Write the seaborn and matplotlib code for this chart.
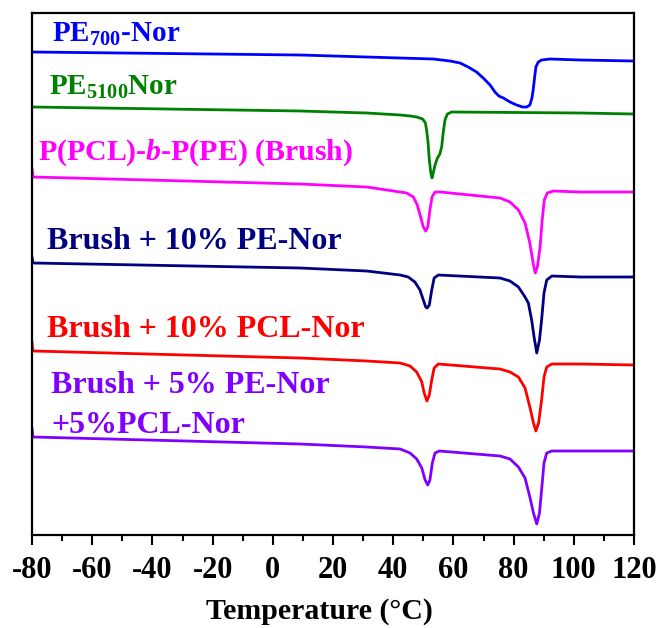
import matplotlib
matplotlib.use("Agg")
import matplotlib.pyplot as plt
from matplotlib.ticker import MultipleLocator
import numpy as np
import pandas as pd
import seaborn as sns

# DSC heating traces (temperature in °C, heat flow in a.u., curves stacked with offsets)
pe700_T = [-80, 9.0, 31.2, 53.3, 58.9, 62.2, 64.9, 67.7, 69.9, 72.2, 73.8, 75.1, 76.6, 78.8,
           81.0, 83.0, 84.4, 85.4, 86.1, 86.5, 87.0, 87.4, 88.2, 89.3, 92.1, 102.1, 120]
pe700_hf = [48.3, 48.0, 47.8, 47.6, 47.4, 47.2, 46.8, 46.3, 45.7, 45.0, 44.3, 43.9, 43.7, 43.3,
            43.0, 42.8, 42.8, 43.0, 43.7, 44.5, 45.8, 46.8, 47.3, 47.5, 47.6, 47.5, 47.4]

pe5100_T = [-80, 9.0, 31.2, 42.3, 45.6, 47.8, 49.8, 50.7, 51.1, 51.6, 52.0, 52.5, 52.9, 53.3,
            53.9, 54.7, 55.5, 56.1, 56.6, 57.2, 58.0, 59.4, 102.1, 120]
pe5100_hf = [42.8, 42.4, 42.2, 42.0, 41.9, 41.8, 41.6, 41.2, 40.5, 39.2, 37.5, 36.2, 35.7, 36.2,
             37.0, 37.7, 38.1, 38.8, 40.2, 41.5, 42.1, 42.3, 42.2, 42.1]

brush_T = [-80, -79.7, 9.0, 31.2, 42.3, 44.5, 46.7, 48.0, 49.1, 50.0, 50.8, 51.5, 52.2, 52.9,
           53.9, 55.6, 75.5, 78.8, 81.6, 83.8, 85.4, 86.6, 87.2, 87.9, 88.8, 89.5, 90.2, 91.2,
           93.2, 102.1, 120]
brush_hf = [36.7, 35.8, 35.1, 34.8, 34.3, 34.2, 33.8, 33.0, 31.8, 30.8, 30.4, 30.8, 32.5, 33.8,
            34.3, 34.3, 33.7, 33.3, 32.5, 31.2, 29.2, 27.0, 26.2, 26.8, 28.8, 31.5, 33.5, 34.2,
            34.4, 34.3, 34.3]

pe10_T = [-80, -79.7, 9.0, 31.2, 42.3, 45.0, 47.2, 48.9, 50.0, 50.8, 51.3, 52.0, 52.8, 53.6,
          55.0, 75.5, 78.8, 81.6, 83.8, 84.9, 86.0, 86.8, 87.7, 88.6, 89.3, 90.1, 91.0, 92.7,
          102.1, 120]
pe10_hf = [27.8, 27.2, 26.7, 26.4, 26.0, 25.8, 25.3, 24.5, 23.5, 22.8, 22.7, 23.0, 24.5, 25.7,
           26.0, 25.7, 25.4, 24.8, 23.8, 23.2, 21.5, 19.8, 18.2, 19.5, 21.5, 24.2, 25.5, 25.9,
           25.8, 25.8]

pcl10_T = [-80, -79.7, 9.0, 31.2, 42.3, 45.6, 47.8, 49.5, 50.3, 51.2, 52.0, 52.8, 53.6, 55.0,
           75.5, 78.8, 81.6, 83.8, 85.4, 86.6, 87.4, 88.3, 89.3, 90.1, 91.0, 92.7, 102.1, 120]
pcl10_hf = [19.3, 18.4, 17.7, 17.4, 17.2, 16.9, 16.3, 15.3, 14.2, 13.4, 14.0, 15.5, 16.7, 17.1,
            16.6, 16.3, 15.8, 14.7, 12.8, 11.2, 10.4, 11.2, 13.5, 15.8, 16.8, 17.1, 17.1, 17.0]

mix_T = [-80, -79.7, 9.0, 31.2, 42.3, 45.6, 47.8, 49.5, 50.6, 51.5, 52.2, 53.0, 53.9, 55.3,
         75.5, 78.8, 81.6, 83.8, 85.4, 86.6, 87.7, 88.6, 89.3, 90.1, 91.0, 92.7, 102.1, 120]
mix_hf = [10.7, 9.8, 9.1, 8.8, 8.6, 8.2, 7.6, 6.7, 5.5, 5.0, 5.5, 7.2, 8.2, 8.4,
          7.9, 7.6, 6.8, 5.7, 3.8, 2.2, 1.1, 2.2, 4.5, 7.2, 8.2, 8.4, 8.4, 8.4]

samples = ["PE700-Nor", "PE5100Nor", "Brush", "Brush + 10% PE-Nor",
           "Brush + 10% PCL-Nor", "Brush + 5% PE-Nor +5%PCL-Nor"]
temps = [pe700_T, pe5100_T, brush_T, pe10_T, pcl10_T, mix_T]
flows = [pe700_hf, pe5100_hf, brush_hf, pe10_hf, pcl10_hf, mix_hf]
colors = ["#0000FF", "#008000", "#FF00FF", "#000080", "#FF0000", "#8000FF"]

# curve labels: (text, T, heat flow at baseline, font size, colour index)
labels = [
    (r"PE$_{\mathbf{700}}$-Nor", -73.4, 49.3, 21, 0),
    (r"PE$_{\mathbf{5100}}$Nor", -74.4, 44.0, 21, 1),
    (r"P(PCL)-$\mathit{b}$-P(PE) (Brush)", -78.0, 37.5, 21.5, 2),
    ("Brush + 10% PE-Nor", -75.0, 28.6, 23, 3),
    ("Brush + 10% PCL-Nor", -75.0, 19.8, 23, 4),
    ("Brush + 5% PE-Nor", -73.7, 14.2, 23, 5),
    ("+5%PCL-Nor", -73.7, 10.2, 23, 5),
]

x_ticks = [-80, -60, -40, -20, 0, 20, 40, 60, 80, 100, 120]

frames = []
for name, t, hf in zip(samples, temps, flows):
    frames.append(pd.DataFrame({"T": t, "HF": hf, "sample": name}))
df = pd.concat(frames, ignore_index=True)

sns.set_theme(style="ticks")
plt.rcParams["font.family"] = ["Liberation Serif", "DejaVu Serif"]
plt.rcParams["font.weight"] = "bold"
plt.rcParams["text.color"] = "black"
plt.rcParams["axes.labelcolor"] = "black"
plt.rcParams["xtick.color"] = "black"
plt.rcParams["mathtext.fontset"] = "custom"
plt.rcParams["mathtext.rm"] = "Liberation Serif:bold"
plt.rcParams["mathtext.bf"] = "Liberation Serif:bold"
plt.rcParams["mathtext.it"] = "Liberation Serif:bold:italic"
plt.rcParams["mathtext.default"] = "bf"

fig = plt.figure(figsize=(6.62, 6.28), dpi=100)
ax = fig.add_axes([32 / 662, 1 - 535 / 628, 602 / 662, 522 / 628])

sns.lineplot(data=df, x="T", y="HF", hue="sample", hue_order=samples,
             palette=colors, sort=False, estimator=None, units="sample",
             legend=False, linewidth=2.0, ax=ax)

for text, tx, ty, fs, ci in labels:
    ax.text(tx, ty, text, color=colors[ci], fontsize=fs, fontweight="bold",
            va="baseline", ha="left")

ax.set_xlim(-80, 120)
ax.set_ylim(0, 52.2)
ax.set_xticks(x_ticks)
ax.set_xticklabels([str(v) for v in x_ticks])
ax.xaxis.set_minor_locator(MultipleLocator(10))
ax.set_yticks([])
ax.set_ylabel("")
ax.set_xlabel("Temperature (°C)", fontsize=21.5, fontweight="bold")
ax.xaxis.set_label_coords(0.478, -0.121)
ax.tick_params(axis="x", which="major", direction="out", length=7, width=1.5,
               labelsize=22, pad=8)
ax.tick_params(axis="x", which="minor", direction="out", length=4, width=1.5)
for lbl in ax.get_xticklabels():
    lbl.set_fontweight("bold")
for s in ax.spines.values():
    s.set_linewidth(1.6)
    s.set_color("black")
    s.set_visible(True)

fig.savefig("out.png", dpi=100)
